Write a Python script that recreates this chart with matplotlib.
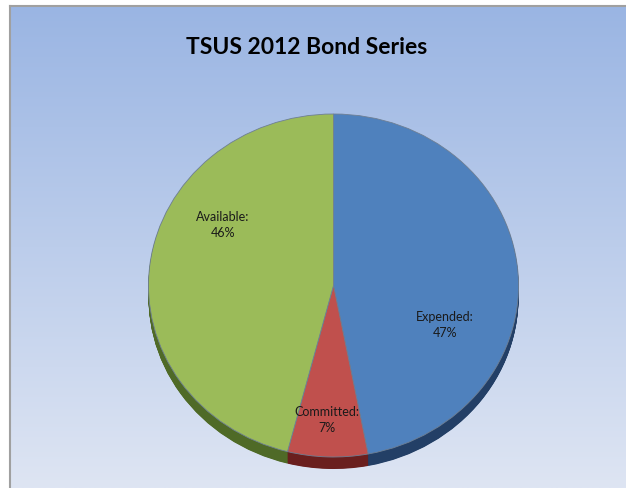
import numpy as np
import matplotlib
matplotlib.use('Agg')
import matplotlib.pyplot as plt

# data
labels = ['Expended', 'Committed', 'Available']
values = [47, 7, 46]
pct_text = ['47%', '7%', '46%']
colors = ['#4F81BD', '#C0504D', '#9BBB59']
side_colors = ['#233F66', '#6A1F1E', '#4F6A27']
title = 'TSUS 2012 Bond Series'

W, H = 626, 489
fig = plt.figure(figsize=(W / 100, H / 100), dpi=100)
fig.patch.set_facecolor('white')

# background with gradient
bg = fig.add_axes([10 / W, 0, 1 - 10 / W, (H - 7) / H])
grad = np.linspace(0, 1, 256)[:, None]
top = np.array([154, 181, 227]) / 255
bot = np.array([222, 229, 243]) / 255
img = top + (bot - top) * grad[:, :, None]
bg.imshow(img, aspect='auto', extent=[0, 1, 0, 1])
bg.set_xticks([])
bg.set_yticks([])
for s in ['right', 'bottom']:
    bg.spines[s].set_visible(False)
for s in ['left', 'top']:
    bg.spines[s].set_color('#A0A0A0')
    bg.spines[s].set_linewidth(1.5)

fig.text(307 / W, 1 - 48 / H, title, ha='center', va='center',
         fontsize=16.5, fontweight='bold', family='Lato')

# pie, drawn as an ellipse with some depth
cx, rx = 333.5, 185
top_px, ry = 115, 171.5
depth = 12 / ry
ax = fig.add_axes([(cx - rx) / W, (H - (top_px + (2 + depth + 0.02) * ry)) / H,
                   2 * rx / W, (2 + depth + 0.02) * ry / H])

for d in np.linspace(depth, 0.005, 25):
    ax.pie(values, colors=side_colors, startangle=90, counterclock=False,
           center=(0, -d), radius=1, frame=True,
           wedgeprops=dict(linewidth=0, antialiased=True))
ax.pie(values, colors=colors, startangle=90, counterclock=False,
       center=(0, 0), radius=1, frame=True,
       wedgeprops=dict(linewidth=0.6, edgecolor='#6E7F94'))
ax.set_aspect('auto')
ax.set_xlim(-1, 1)
ax.set_ylim(-1 - depth - 0.02, 1)
ax.axis('off')

# labels
label_pos = [(445, 325), (327, 420), (223, 225)]
for lab, p, (x, y) in zip(labels, pct_text, label_pos):
    fig.text(x / W, 1 - y / H, lab + ':\n' + p, ha='center', va='center',
             fontsize=9, family='Lato', linespacing=1.35, color='#1A1A1A')

fig.savefig('out.png', dpi=100)
